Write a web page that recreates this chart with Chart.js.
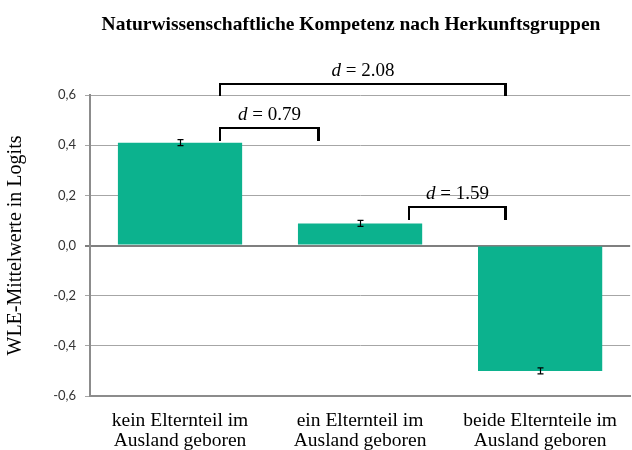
<!DOCTYPE html>
<html>
<head>
<meta charset="utf-8">
<script src="https://cdn.jsdelivr.net/npm/chart.js@4"></script>
<style>
  html, body { margin: 0; padding: 0; background: #fff; }
  #wrap { width: 632px; height: 450px; }
</style>
</head>
<body>
<div id="wrap"><canvas id="chart" width="632" height="450"></canvas></div>
<script>
const chartTitle = 'Naturwissenschaftliche Kompetenz nach Herkunftsgruppen';
const categories = [
  ['kein Elternteil im', 'Ausland geboren'],
  ['ein Elternteil im', 'Ausland geboren'],
  ['beide Elternteile im', 'Ausland geboren']
];
const means = [0.41, 0.088, -0.50];
const errors = [0.012, 0.012, 0.012];
const yTicks = [-0.6, -0.4, -0.2, 0.0, 0.2, 0.4, 0.6];

// Effektstärke-Klammern (x in Kategorie-Index, y in Logits)
const bracketFrom = [0.22, 0.22, 1.27];
const bracketTo = [1.81, 0.77, 1.81];
const bracketTop = [0.644, 0.468, 0.152];
const bracketLeg = [0.596, 0.416, 0.10];
const bracketLabels = ['2.08', '0.79', '1.59'];

const serif = '"Liberation Serif", "DejaVu Serif", serif';

// Titel etwas links von der Mitte des Plotbereichs, wie im Original
const titlePlugin = {
  id: 'titleText',
  afterDraw(chart) {
    const ctx = chart.ctx;
    ctx.save();
    ctx.font = 'bold 19.5px ' + serif;
    ctx.fillStyle = '#000';
    ctx.textAlign = 'center';
    ctx.textBaseline = 'alphabetic';
    ctx.fillText(chartTitle, 351, 30);
    ctx.restore();
  }
};

const errorBars = {
  id: 'errorBars',
  afterDatasetsDraw(chart) {
    const ctx = chart.ctx;
    const y = chart.scales.y;
    const meta = chart.getDatasetMeta(0);
    ctx.save();
    ctx.strokeStyle = '#000';
    ctx.lineWidth = 1.2;
    meta.data.forEach((bar, i) => {
      const x = Math.round(bar.x) + 0.5;
      const hi = y.getPixelForValue(means[i] + errors[i]);
      const lo = y.getPixelForValue(means[i] - errors[i]);
      ctx.beginPath();
      ctx.moveTo(x, hi); ctx.lineTo(x, lo);
      ctx.moveTo(x - 3, hi); ctx.lineTo(x + 3, hi);
      ctx.moveTo(x - 3, lo); ctx.lineTo(x + 3, lo);
      ctx.stroke();
    });
    ctx.restore();
  }
};

const brackets = {
  id: 'brackets',
  afterDraw(chart) {
    const ctx = chart.ctx;
    const xs = chart.scales.x;
    const ys = chart.scales.y;
    ctx.save();
    bracketLabels.forEach((lab, i) => {
      const x1 = Math.round(xs.getPixelForValue(bracketFrom[i]));
      const x2 = Math.round(xs.getPixelForValue(bracketTo[i]));
      const yt = Math.round(ys.getPixelForValue(bracketTop[i]));
      const yl = Math.round(ys.getPixelForValue(bracketLeg[i]));
      ctx.strokeStyle = '#000';
      ctx.lineWidth = 2;
      ctx.lineCap = 'butt';
      ctx.beginPath();
      ctx.moveTo(x1, yl); ctx.lineTo(x1, yt); ctx.lineTo(x2, yt);
      ctx.stroke();
      ctx.lineWidth = 3;
      ctx.beginPath();
      ctx.moveTo(x2 - 0.5, yt - 1); ctx.lineTo(x2 - 0.5, yl);
      ctx.stroke();

      // "d = x.xx" mit kursivem d
      const dFont = 'italic 19px ' + serif;
      const rFont = '19px ' + serif;
      const rest = ' = ' + lab;
      ctx.font = dFont;
      const wd = ctx.measureText('d').width;
      ctx.font = rFont;
      const wr = ctx.measureText(rest).width;
      const cx = (x1 + x2) / 2;
      const start = cx - (wd + wr) / 2;
      const base = yt - 8;
      ctx.fillStyle = '#000';
      ctx.textBaseline = 'alphabetic';
      ctx.textAlign = 'left';
      ctx.font = dFont;
      ctx.fillText('d', start, base);
      ctx.font = rFont;
      ctx.fillText(rest, start + wd, base);
    });
    ctx.restore();
  }
};

new Chart(document.getElementById('chart'), {
  type: 'bar',
  data: {
    labels: categories,
    datasets: [{
      data: means,
      backgroundColor: '#0cb28e',
      borderWidth: 0,
      barPercentage: 0.69,
      categoryPercentage: 1.0
    }]
  },
  options: {
    responsive: false,
    animation: false,
    layout: { padding: { left: 0, right: 0, top: 95, bottom: 0 } },
    plugins: {
      legend: { display: false },
      tooltip: { enabled: false },
      title: { display: false }
    },
    scales: {
      x: {
        grid: { display: false, drawTicks: false },
        border: { display: true, color: '#8c8c8c', width: 2 },
        ticks: {
          color: '#000',
          font: { family: serif, size: 19.5, lineHeight: '20px' },
          padding: 15,
          maxRotation: 0
        },
        afterFit(scale) { scale.height = 54; }
      },
      y: {
        min: -0.6,
        max: 0.6,
        afterBuildTicks(scale) { scale.ticks = yTicks.map(v => ({ value: v })); },
        grid: {
          color: ctx => (ctx.tick && Math.abs(ctx.tick.value) < 1e-9) ? '#7f7f7f' : '#a6a6a6',
          lineWidth: ctx => (ctx.tick && Math.abs(ctx.tick.value) < 1e-9) ? 2 : 1,
          tickLength: 5
        },
        border: { display: true, color: '#8c8c8c', width: 2 },
        ticks: {
          color: '#333',
          font: { family: 'Lato, "Open Sans", sans-serif', size: 13 },
          padding: 9,
          callback: v => v.toFixed(1).replace('.', ',')
        },
        title: {
          display: true,
          text: 'WLE-Mittelwerte in Logits',
          color: '#000',
          font: { family: serif, size: 20 },
          padding: { top: 4, bottom: 0 }
        },
        afterFit(scale) { scale.width = 90; }
      }
    }
  },
  plugins: [errorBars, brackets, titlePlugin]
});
</script>
</body>
</html>
